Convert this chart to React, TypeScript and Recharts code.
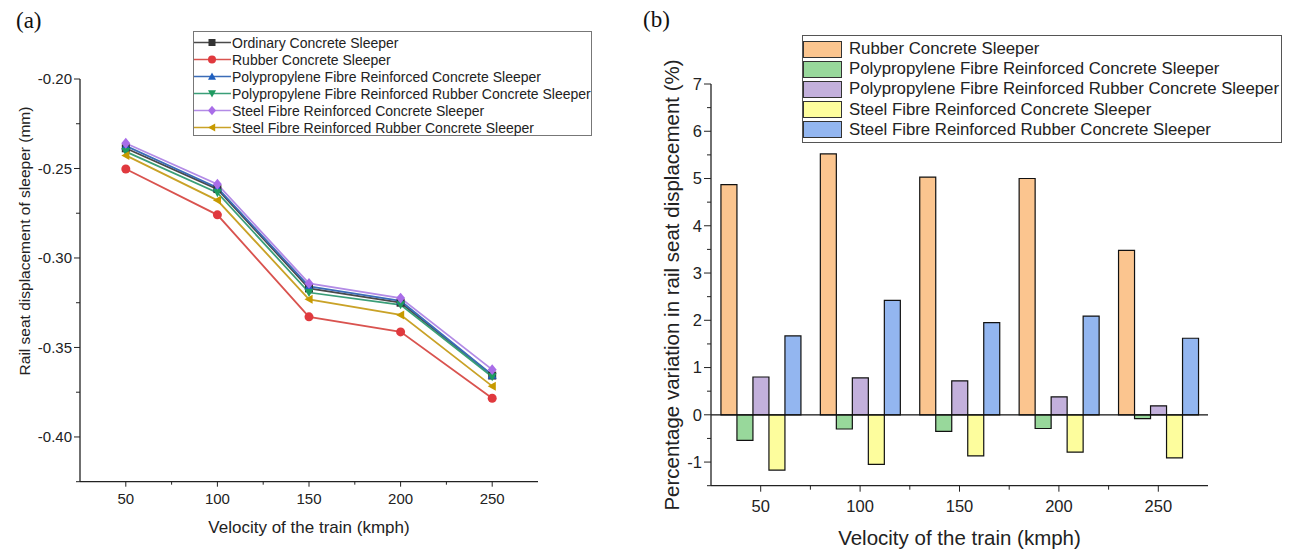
import React from "react";
import { LineChart, Line, BarChart, Bar, XAxis, YAxis, ReferenceLine } from "recharts";

// train velocity (kmph)
const velocities = [50, 100, 150, 200, 250];

// (a) rail seat displacement of sleeper (mm)
const ordinary = [-0.2387, -0.2615, -0.317, -0.325, -0.3657];
const rubber = [-0.2503, -0.2759, -0.3329, -0.3413, -0.3784];
const ppConcrete = [-0.2374, -0.2607, -0.3159, -0.324, -0.3654];
const ppRubber = [-0.2406, -0.2635, -0.3193, -0.3262, -0.3664];
const steelConcrete = [-0.2359, -0.2588, -0.3142, -0.3224, -0.3624];
const steelRubber = [-0.2427, -0.2678, -0.3231, -0.3318, -0.3716];

// (b) percentage variation against ordinary sleeper (%)
const pctRubber = [4.87, 5.52, 5.03, 5.0, 3.48];
const pctPpConcrete = [-0.54, -0.3, -0.35, -0.29, -0.08];
const pctPpRubber = [0.8, 0.78, 0.72, 0.38, 0.19];
const pctSteelConcrete = [-1.17, -1.05, -0.87, -0.79, -0.91];
const pctSteelRubber = [1.67, 2.42, 1.95, 2.09, 1.62];

const dispTicks = [-0.425, -0.4, -0.375, -0.35, -0.325, -0.3, -0.275, -0.25, -0.225, -0.2];
const velocityTicks = [50, 75, 100, 125, 150, 175, 200, 225, 250];
const pctTicks = [-1.5, -1, -0.5, 0, 0.5, 1, 1.5, 2, 2.5, 3, 3.5, 4, 4.5, 5, 5.5, 6, 6.5, 7];

const lineData = velocities.map((v, i) => ({
  v,
  ordinary: ordinary[i],
  rubber: rubber[i],
  ppConcrete: ppConcrete[i],
  ppRubber: ppRubber[i],
  steelConcrete: steelConcrete[i],
  steelRubber: steelRubber[i],
}));

const barData = velocities.map((v, i) => ({
  v: String(v),
  rubber: pctRubber[i],
  ppConcrete: pctPpConcrete[i],
  ppRubber: pctPpRubber[i],
  steelConcrete: pctSteelConcrete[i],
  steelRubber: pctSteelRubber[i],
}));

const lineSeries = [
  { key: "ordinary", name: "Ordinary Concrete Sleeper", line: "#4a4a4a", mark: "#333333", shape: "square" },
  { key: "rubber", name: "Rubber Concrete Sleeper", line: "#d9534f", mark: "#e0393e", shape: "circle" },
  { key: "ppConcrete", name: "Polypropylene Fibre Reinforced Concrete Sleeper", line: "#3b6cb7", mark: "#1f5fbf", shape: "up" },
  { key: "ppRubber", name: "Polypropylene Fibre Reinforced Rubber Concrete Sleeper", line: "#3a9e78", mark: "#1e9a60", shape: "down" },
  { key: "steelConcrete", name: "Steel Fibre Reinforced Concrete Sleeper", line: "#b38be6", mark: "#a96de8", shape: "diamond" },
  { key: "steelRubber", name: "Steel Fibre Reinforced Rubber Concrete Sleeper", line: "#c9a227", mark: "#c79a00", shape: "left" },
];

const barSeries = [
  { key: "rubber", name: "Rubber Concrete Sleeper", fill: "#fbc58f" },
  { key: "ppConcrete", name: "Polypropylene Fibre Reinforced Concrete Sleeper", fill: "#98d89b" },
  { key: "ppRubber", name: "Polypropylene Fibre Reinforced Rubber Concrete Sleeper", fill: "#c3b0dc" },
  { key: "steelConcrete", name: "Steel Fibre Reinforced Concrete Sleeper", fill: "#fdfd9d" },
  { key: "steelRubber", name: "Steel Fibre Reinforced Rubber Concrete Sleeper", fill: "#93b6f0" },
];

const FONT = "'Liberation Sans', Arial, sans-serif";
const AXIS = "#222";

function Marker({ cx, cy, shape, color, r = 4.5 }: any) {
  if (cx == null || cy == null) return null;
  switch (shape) {
    case "square":
      return <rect x={cx - r + 0.5} y={cy - r + 0.5} width={2 * r - 1} height={2 * r - 1} fill={color} />;
    case "circle":
      return <circle cx={cx} cy={cy} r={r} fill={color} />;
    case "up":
      return <polygon points={`${cx},${cy - r} ${cx + r},${cy + r * 0.8} ${cx - r},${cy + r * 0.8}`} fill={color} />;
    case "down":
      return <polygon points={`${cx},${cy + r} ${cx + r},${cy - r * 0.8} ${cx - r},${cy - r * 0.8}`} fill={color} />;
    case "diamond":
      return <polygon points={`${cx},${cy - r * 1.2} ${cx + r},${cy} ${cx},${cy + r * 1.2} ${cx - r},${cy}`} fill={color} />;
    default:
      return <polygon points={`${cx - r},${cy} ${cx + r * 0.8},${cy - r} ${cx + r * 0.8},${cy + r}`} fill={color} />;
  }
}

function LeftYTick({ x, y, payload }: any) {
  const v = payload.value;
  const major = Math.abs(Math.round(v * 20) - v * 20) < 1e-6;
  return (
    <g>
      <line x1={x - (major ? 6 : 4)} x2={x} y1={y} y2={y} stroke={AXIS} />
      {major && (
        <text x={x - 8} y={y} dy="0.35em" textAnchor="end" fontSize={15} fill="#222" fontFamily={FONT}>
          {v.toFixed(2)}
        </text>
      )}
    </g>
  );
}

function LeftXTick({ x, y, payload }: any) {
  const major = payload.value % 50 === 0;
  return (
    <g>
      <line x1={x} x2={x} y1={y} y2={y + (major ? 5 : 3)} stroke={AXIS} />
      {major && (
        <text x={x} y={y + 17.5} dy="0.35em" textAnchor="middle" fontSize={15} fill="#222" fontFamily={FONT}>
          {payload.value}
        </text>
      )}
    </g>
  );
}

function RightYTick({ x, y, payload }: any) {
  const v = payload.value;
  const major = Number.isInteger(v);
  return (
    <g>
      <line x1={x - (major ? 7 : 4)} x2={x} y1={y} y2={y} stroke={AXIS} />
      {major && (
        <text x={x - 9} y={y} dy="0.35em" textAnchor="end" fontSize={16.5} fill="#222" fontFamily={FONT}>
          {v}
        </text>
      )}
    </g>
  );
}

const RIGHT_PLOT_W = 497;

function RightXTick({ x, y, payload, index }: any) {
  const band = RIGHT_PLOT_W / velocities.length;
  return (
    <g>
      <line x1={x} x2={x} y1={y} y2={y + 6} stroke={AXIS} />
      {index < velocities.length - 1 && (
        <line x1={x + band / 2} x2={x + band / 2} y1={y} y2={y + 4} stroke={AXIS} />
      )}
      <text x={x} y={y + 21} dy="0.35em" textAnchor="middle" fontSize={16.5} fill="#222" fontFamily={FONT}>
        {payload.value}
      </text>
    </g>
  );
}

function PanelTag({ text, left, top }: any) {
  return (
    <div
      style={{
        position: "absolute",
        left,
        top,
        fontFamily: "'Liberation Serif', 'Times New Roman', serif",
        fontSize: 23,
        lineHeight: "26px",
        color: "#111",
      }}
    >
      {text}
    </div>
  );
}

function LineLegend() {
  return (
    <div
      style={{
        position: "absolute",
        left: 193,
        top: 31,
        width: 399,
        height: 105,
        border: "1px solid #777",
        background: "#fff",
        boxSizing: "border-box",
        paddingTop: 2,
        fontFamily: FONT,
        fontSize: 14,
        color: "#222",
      }}
    >
      {lineSeries.map((s) => (
        <div key={s.key} style={{ display: "flex", alignItems: "center", height: 17 }}>
          <svg width={38} height={17} style={{ display: "block", flexShrink: 0 }}>
            <line x1={0} x2={37} y1={8.5} y2={8.5} stroke={s.line} strokeWidth={1.6} />
            <Marker cx={18} cy={8.5} shape={s.shape} color={s.mark} r={4} />
          </svg>
          <span style={{ whiteSpace: "nowrap" }}>{s.name}</span>
        </div>
      ))}
    </div>
  );
}

function BarLegend() {
  return (
    <div
      style={{
        position: "absolute",
        left: 802,
        top: 35,
        width: 480,
        height: 108,
        border: "1px solid #555",
        background: "#fff",
        boxSizing: "border-box",
        paddingTop: 3,
        fontFamily: FONT,
        fontSize: 16.8,
        color: "#222",
      }}
    >
      {barSeries.map((s) => (
        <div key={s.key} style={{ display: "flex", alignItems: "center", height: 20.2 }}>
          <div
            style={{
              width: 39,
              height: 17,
              flexShrink: 0,
              background: s.fill,
              border: "1px solid #333",
              boxSizing: "border-box",
              marginRight: 7,
            }}
          />
          <span style={{ whiteSpace: "nowrap" }}>{s.name}</span>
        </div>
      ))}
    </div>
  );
}

export default function App() {
  return (
    <div style={{ position: "absolute", left: 0, top: 0, width: 1290, height: 550, background: "#fff", fontFamily: FONT }}>
      <PanelTag text="(a)" left={16} top={8} />
      <PanelTag text="(b)" left={643} top={7} />

      <div style={{ position: "absolute", left: 0, top: 0 }}>
        <LineChart width={560} height={550} data={lineData} margin={{ top: 79, right: 22, bottom: 0, left: 0 }}>
          <XAxis
            dataKey="v"
            type="number"
            domain={[25, 275]}
            ticks={velocityTicks}
            interval={0}
            height={68.3}
            tickSize={0}
            tickMargin={0}
            tick={<LeftXTick />}
            axisLine={{ stroke: AXIS, strokeWidth: 1.3 }}
            label={{
              content: () => (
                <text x={309} y={527} dy="0.35em" textAnchor="middle" fontSize={17} fill="#222" fontFamily={FONT}>
                  Velocity of the train (kmph)
                </text>
              ),
            }}
          />
          <YAxis
            type="number"
            domain={[-0.425, -0.2]}
            ticks={dispTicks}
            interval={0}
            width={80}
            tickSize={0}
            tickMargin={0}
            tick={<LeftYTick />}
            axisLine={{ stroke: AXIS, strokeWidth: 1.3 }}
            label={{
              content: () => (
                <text
                  transform="translate(25, 241) rotate(-90)"
                  textAnchor="middle"
                  dy="0.35em"
                  fontSize={15.5}
                  fill="#222"
                  fontFamily={FONT}
                >
                  Rail seat displacement of sleeper (mm)
                </text>
              ),
            }}
          />
          {lineSeries.map((s) => (
            <Line
              key={s.key}
              dataKey={s.key}
              name={s.name}
              type="linear"
              stroke={s.line}
              strokeWidth={1.8}
              isAnimationActive={false}
              dot={(p: any) => (
                <Marker key={`${s.key}-${p.index}`} cx={p.cx} cy={p.cy} shape={s.shape} color={s.mark} />
              )}
              activeDot={false}
            />
          ))}
        </LineChart>
      </div>
      <LineLegend />

      <div style={{ position: "absolute", left: 640, top: 0 }}>
        <BarChart
          width={650}
          height={550}
          data={barData}
          margin={{ top: 84, right: 82, bottom: 0, left: 0 }}
          barCategoryGap="10%"
          barGap={0}
        >
          <XAxis
            dataKey="v"
            type="category"
            height={64.3}
            interval={0}
            tickSize={0}
            tickMargin={0}
            tick={<RightXTick />}
            axisLine={{ stroke: AXIS, strokeWidth: 1.3 }}
            label={{
              content: () => (
                <text x={319.5} y={538} dy="0.35em" textAnchor="middle" fontSize={20.5} fill="#222" fontFamily={FONT}>
                  Velocity of the train (kmph)
                </text>
              ),
            }}
          />
          <YAxis
            type="number"
            domain={[-1.5, 7]}
            ticks={pctTicks}
            interval={0}
            width={71}
            tickSize={0}
            tickMargin={0}
            tick={<RightYTick />}
            axisLine={{ stroke: AXIS, strokeWidth: 1.3 }}
            label={{
              content: () => (
                <text
                  transform="translate(31.5, 285) rotate(-90)"
                  textAnchor="middle"
                  dy="0.35em"
                  fontSize={20.5}
                  fill="#222"
                  fontFamily={FONT}
                >
                  Percentage variation in rail seat displacement (%)
                </text>
              ),
            }}
          />
          <ReferenceLine y={0} stroke="#111" strokeWidth={1.3} />
          {barSeries.map((s) => (
            <Bar
              key={s.key}
              dataKey={s.key}
              name={s.name}
              fill={s.fill}
              stroke="#111"
              strokeWidth={1.2}
              isAnimationActive={false}
            />
          ))}
        </BarChart>
      </div>
      <BarLegend />
    </div>
  );
}
